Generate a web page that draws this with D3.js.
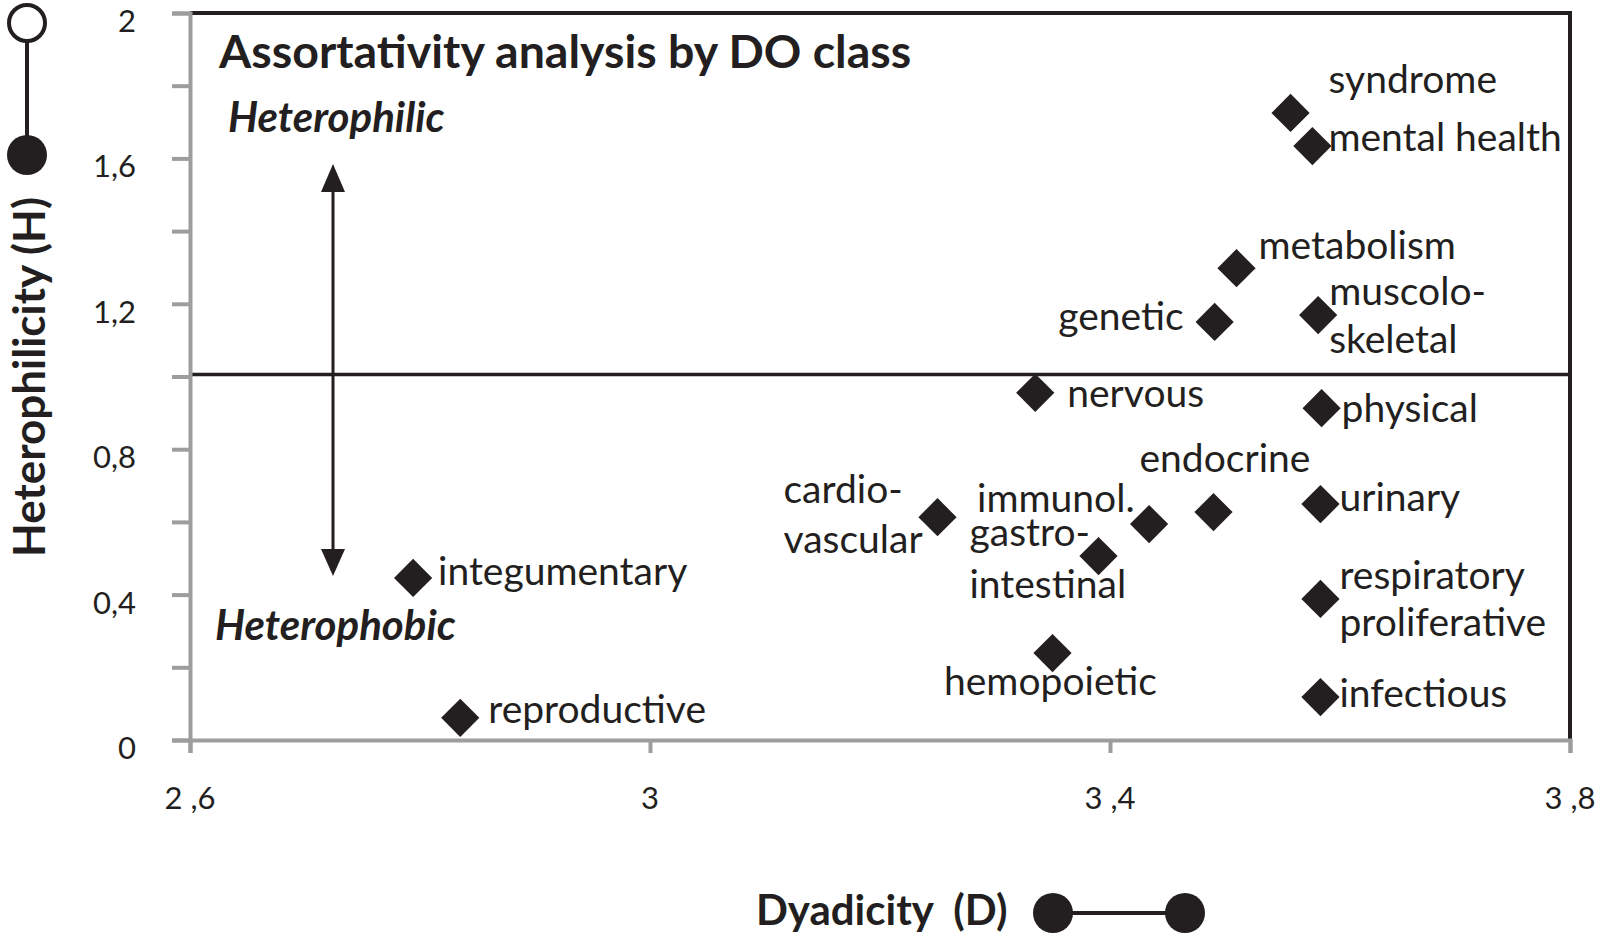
<!DOCTYPE html>
<html>
<head>
<meta charset="utf-8">
<script src="https://cdn.jsdelivr.net/npm/d3@7"></script>
<style>
  html, body { margin: 0; padding: 0; background: #fff; }
  svg text { font-family: Lato, "Open Sans", sans-serif; fill: #231f20; }
</style>
</head>
<body>
<svg id="chart" width="1600" height="939"></svg>
<script>
// ---- data ----
const categories = ["syndrome", "mental health", "metabolism", "genetic", "muscolo-skeletal",
  "physical", "nervous", "endocrine", "cardio-vascular", "immunol.", "gastro-intestinal",
  "urinary", "respiratory proliferative", "hemopoietic", "integumentary", "infectious", "reproductive"];
const dyadicity = [3.557, 3.576, 3.510, 3.491, 3.581, 3.584, 3.335, 3.490, 3.250, 3.434, 3.390,
  3.583, 3.583, 3.350, 2.794, 3.583, 2.835];
const heterophilicity = [1.725, 1.634, 1.298, 1.150, 1.169, 0.913, 0.955, 0.627, 0.613, 0.594, 0.506,
  0.649, 0.388, 0.239, 0.446, 0.118, 0.061];
const labelLines = [["syndrome"], ["mental health"], ["metabolism"], ["genetic"], ["muscolo-", "skeletal"],
  ["physical"], ["nervous"], ["endocrine"], ["cardio-", "vascular"], ["immunol."], ["gastro-", "intestinal"],
  ["urinary"], ["respiratory", "proliferative"], ["hemopoietic"], ["integumentary"], ["infectious"], ["reproductive"]];
const xTicks = [2.6, 3.0, 3.4, 3.8];
const xTickLabels = ["2 ,6", "3", "3 ,4", "3 ,8"];
const yTicks = [0, 0.2, 0.4, 0.6, 0.8, 1.0, 1.2, 1.4, 1.6, 1.8, 2.0];
const yTickLabels = ["0", "", "0,4", "", "0,8", "", "1,2", "", "1,6", "", "2"];
const threshold = 1.0;

// ---- label layout (offsets from point, in px) ----
const labelLayout = [
  {dx: 38, dy: [-20], anchor: "start"},
  {dx: 16, dy: [5], anchor: "start"},
  {dx: 22, dy: [-9], anchor: "start"},
  {dx: -31, dy: [8], anchor: "end"},
  {dx: 11, dy: [-10, 38], anchor: "start"},
  {dx: 20, dy: [14], anchor: "start"},
  {dx: 32, dy: [14], anchor: "start"},
  {dx: -74, dy: [-40], anchor: "start"},
  {dx: -154, dy: [-14, 36], anchor: "start"},
  {dx: -172, dy: [-12], anchor: "start"},
  {dx: -129, dy: [-10, 42], anchor: "start"},
  {dx: 19, dy: [7], anchor: "start"},
  {dx: 19, dy: [-10, 37], anchor: "start"},
  {dx: -2, dy: [42], anchor: "middle"},
  {dx: 25, dy: [7], anchor: "start"},
  {dx: 19, dy: [10], anchor: "start"},
  {dx: 28, dy: [5], anchor: "start"}
];

const svg = d3.select("#chart");
const ink = "#231f20";
const axisGray = "#9d9d9d";

const x = d3.scaleLinear().domain([2.6, 3.8]).range([190, 1570]);
const y = d3.scaleLinear().domain([0, 2]).range([740, 13]);

// frame: top & right in black
svg.append("path")
  .attr("d", `M${x(2.6)},${y(2)} H${x(3.8)} V${y(0)}`)
  .attr("fill", "none").attr("stroke", ink).attr("stroke-width", 4);

// threshold line
svg.append("line")
  .attr("x1", x(2.6)).attr("x2", x(3.8))
  .attr("y1", y(threshold) - 2).attr("y2", y(threshold) - 2)
  .attr("stroke", ink).attr("stroke-width", 3.5);

// y axis
const yAxis = d3.axisLeft(y).tickValues(yTicks).tickSize(18).tickFormat("");
const gy = svg.append("g").attr("transform", `translate(${x(2.6)},0)`).call(yAxis);
gy.select(".domain").attr("stroke", axisGray).attr("stroke-width", 4);
gy.selectAll(".tick line").attr("stroke", axisGray).attr("stroke-width", 4);
svg.append("g").selectAll("text").data(yTicks).join("text")
  .attr("x", 136).attr("y", d => y(d) + 19)
  .attr("text-anchor", "end").attr("font-size", 31)
  .text((d, i) => yTickLabels[i]);

// x axis
const xAxis = d3.axisBottom(x).tickValues(xTicks).tickSize(13).tickFormat("");
const gx = svg.append("g").attr("transform", `translate(0,${y(0)})`).call(xAxis);
gx.select(".domain").attr("stroke", axisGray).attr("stroke-width", 4);
gx.selectAll(".tick line").attr("stroke", axisGray).attr("stroke-width", 4);
svg.append("g").selectAll("text").data(xTicks).join("text")
  .attr("x", d => x(d)).attr("y", 809)
  .attr("text-anchor", "middle").attr("font-size", 31)
  .text((d, i) => xTickLabels[i]);

// title & annotations
svg.append("text").attr("x", 219).attr("y", 68)
  .attr("font-size", 46.5).attr("font-weight", 700)
  .text("Assortativity analysis by DO class");
svg.append("text").attr("x", 228).attr("y", 132)
  .attr("font-size", 42).attr("font-weight", 700).attr("font-style", "italic")
  .text("Heterophilic");
svg.append("text").attr("x", 215).attr("y", 640)
  .attr("font-size", 42).attr("font-weight", 700).attr("font-style", "italic")
  .text("Heterophobic");

// double-headed arrow
const ax = 333;
svg.append("line").attr("x1", ax).attr("x2", ax).attr("y1", 185).attr("y2", 557)
  .attr("stroke", ink).attr("stroke-width", 3);
svg.append("path").attr("d", `M${ax},164 L${ax - 12},192 L${ax + 12},192 Z`).attr("fill", ink);
svg.append("path").attr("d", `M${ax},576 L${ax - 12},549 L${ax + 12},549 Z`).attr("fill", ink);

// axis titles
svg.append("text").attr("transform", "translate(45,377) rotate(-90)")
  .attr("text-anchor", "middle").attr("font-size", 44).attr("font-weight", 700)
  .text("Heterophilicity (H)");
svg.append("text").attr("x", 756).attr("y", 925)
  .attr("font-size", 42).attr("font-weight", 700)
  .attr("xml:space", "preserve").style("white-space", "pre")
  .text("Dyadicity  (D)");

// legend glyphs
svg.append("line").attr("x1", 27).attr("x2", 27).attr("y1", 42).attr("y2", 140)
  .attr("stroke", ink).attr("stroke-width", 4);
svg.append("circle").attr("cx", 27).attr("cy", 23).attr("r", 18)
  .attr("fill", "#fff").attr("stroke", ink).attr("stroke-width", 4);
svg.append("circle").attr("cx", 27).attr("cy", 155).attr("r", 20).attr("fill", ink);
svg.append("line").attr("x1", 1053).attr("x2", 1185).attr("y1", 913).attr("y2", 913)
  .attr("stroke", ink).attr("stroke-width", 4);
svg.append("circle").attr("cx", 1053).attr("cy", 913).attr("r", 20).attr("fill", ink);
svg.append("circle").attr("cx", 1185).attr("cy", 913).attr("r", 20).attr("fill", ink);

// points
const pts = categories.map((c, i) => ({c, d: dyadicity[i], h: heterophilicity[i], lines: labelLines[i], lay: labelLayout[i]}));
const diamond = d3.symbol().type(d3.symbolSquare).size(730);
svg.append("g").selectAll("path").data(pts).join("path")
  .attr("d", diamond)
  .attr("transform", d => `translate(${x(d.d)},${y(d.h)}) rotate(45)`)
  .attr("fill", ink);

// labels
const lg = svg.append("g");
pts.forEach(p => {
  const t = lg.append("text")
    .attr("font-size", 39)
    .attr("text-anchor", p.lay.anchor);
  p.lines.forEach((ln, j) => {
    t.append("tspan")
      .attr("x", x(p.d) + p.lay.dx)
      .attr("y", y(p.h) + p.lay.dy[j])
      .text(ln);
  });
});
</script>
</body>
</html>
